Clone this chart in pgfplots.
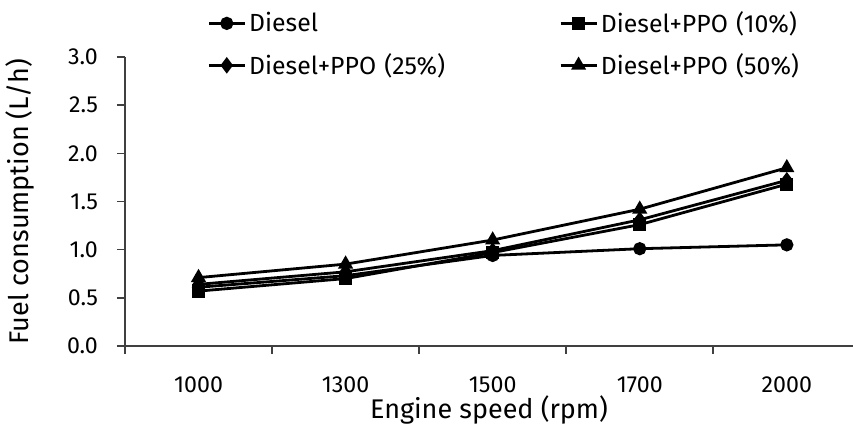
\documentclass[border=0pt]{standalone}
\usepackage{fontspec}
\setmainfont{Fira Sans}
\usepackage{pgfplots}
\pgfplotsset{compat=1.18}

\begin{document}
\begin{tikzpicture}
\useasboundingbox (-62.5pt,-41pt) rectangle (364pt,173pt);
\begin{axis}[
  at={(0pt,0pt)}, anchor=south west,
  scale only axis,
  width=364pt, height=144.5pt,
  xmin=-0.5, xmax=4.45,
  ymin=0, ymax=3,
  axis x line*=bottom, axis y line*=left,
  axis line style={line width=0.8pt, black!75},
  xtick={-0.5,0.5,1.5,2.5,3.5},
  xticklabels={},
  extra x ticks={0,1,2,3,4},
  extra x tick labels={1000,1300,1500,1700,2000},
  extra x tick style={major tick length=0pt, tick label style={yshift=-12pt}},
  ytick={0,0.5,1,1.5,2,2.5,3},
  yticklabel style={xshift=-6pt, /pgf/number format/.cd,fixed,fixed zerofill,precision=1},
  /pgf/number format/assume math mode=true,
  tick style={black!75, line width=0.8pt},
  tick align=outside,
  major tick length=4pt,
  tick label style={font=\fontsize{11.6}{13}\selectfont},
  xlabel={Engine speed (rpm)},
  ylabel={Fuel consumption (L/h)},
  label style={font=\fontsize{13.5}{15}\selectfont},
  xlabel style={at={(axis description cs:0.5,0)}, anchor=center, yshift=-32pt},
  ylabel style={at={(axis description cs:-0.144,0.5)}, anchor=center},
  every axis plot/.append style={line width=1.4pt, black, mark size=2.6pt},
  legend columns=2,
  legend cell align=left,
  legend style={draw=none, fill=none, at={(38pt,171pt)}, anchor=north west,
    font=\fontsize{12.4}{14}\selectfont, row sep=6pt,
    nodes={text width=153.5pt, inner sep=1.5pt}},
  legend image code/.code={\draw[mark repeat=2,mark phase=2] plot coordinates {(0pt,0pt) (9pt,0pt) (18pt,0pt)};},
  clip=false,
]
\addplot[black, mark=*] coordinates {(0,0.61) (1,0.73) (2,0.94) (3,1.01) (4,1.05)};
\addplot[black, mark=square*] coordinates {(0,0.57) (1,0.70) (2,0.97) (3,1.26) (4,1.68)};
\addplot[black, mark=diamond*, mark size=3pt] coordinates {(0,0.64) (1,0.77) (2,0.99) (3,1.31) (4,1.72)};
\addplot[black, mark=triangle*, mark size=3pt] coordinates {(0,0.71) (1,0.85) (2,1.10) (3,1.42) (4,1.85)};
\legend{Diesel,Diesel+PPO (10\%),Diesel+PPO (25\%),Diesel+PPO (50\%)}
\end{axis}
\end{tikzpicture}
\end{document}
